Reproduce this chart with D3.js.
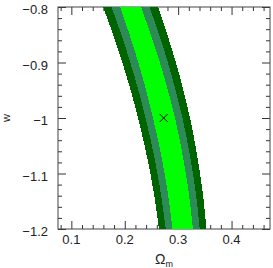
<!DOCTYPE html>
<html>
<head>
<meta charset="utf-8">
<script src="https://cdn.jsdelivr.net/npm/d3@7"></script>
<style>
  body { margin: 0; background: #fff; }
  text { font-family: "Liberation Sans", Arial, sans-serif; fill: #222; }
</style>
</head>
<body>
<svg id="chart" width="273" height="268"></svg>
<script>
// w values where the contour edges were read
const wGrid = [-0.80, -0.85, -0.90, -0.95, -1.00, -1.05, -1.10, -1.15, -1.20];
// outer (dark) region edges in Omega_m
const outerLeft  = [0.1593, 0.1782, 0.1954, 0.2110, 0.2248, 0.2372, 0.2479, 0.2569, 0.2641];
const outerRight = [0.2623, 0.2798, 0.2958, 0.3098, 0.3222, 0.3324, 0.3411, 0.3479, 0.3529];
// middle region edges
const midLeft  = [0.1752, 0.1936, 0.2104, 0.2256, 0.2389, 0.2509, 0.2612, 0.2698, 0.2767];
const midRight = [0.2464, 0.2644, 0.2808, 0.2952, 0.3081, 0.3187, 0.3278, 0.3350, 0.3403];
// inner region edges
const innerLeft  = [0.1911, 0.2091, 0.2254, 0.2400, 0.2529, 0.2646, 0.2746, 0.2829, 0.2894];
const innerRight = [0.2305, 0.2489, 0.2658, 0.2808, 0.2941, 0.3050, 0.3144, 0.3219, 0.3276];
// best fit point
const bestFit = [0.273, -1.0];

// ticks
const xMajor = [0.1, 0.2, 0.3, 0.4];
const xLabels = ["0.1", "0.2", "0.3", "0.4"];
const xMinor = [0.08, 0.12, 0.14, 0.16, 0.18, 0.22, 0.24, 0.26, 0.28, 0.32, 0.34, 0.36, 0.38, 0.42, 0.44, 0.46];
const yMajor = [-1.2, -1.1, -1.0, -0.9, -0.8];
const yLabels = ["\u22121.2", "\u22121.1", "\u22121", "\u22120.9", "\u22120.8"];
const yMinor = [-1.18, -1.16, -1.14, -1.12, -1.08, -1.06, -1.04, -1.02, -0.98, -0.96, -0.94, -0.92, -0.88, -0.86, -0.84, -0.82];

const boxL = 58, boxR = 270, boxT = 7, boxB = 229;

const x = d3.scaleLinear().domain([0.075, 0.472]).range([boxL, boxR]);
const y = d3.scaleLinear().domain([-1.2, -0.8]).range([boxB, boxT]);

const svg = d3.select("#chart");

//ticks, all pointing into the box
function tickAxis(axis, vals, size, tr){
  const g = svg.append("g")
    .attr("transform", tr)
    .call(axis.tickValues(vals).tickSize(-size).tickFormat(""));
  g.select(".domain").remove();
  g.selectAll("line").attr("stroke", "#333");
}
tickAxis(d3.axisBottom(x), xMinor, 4, `translate(0,${boxB})`);
tickAxis(d3.axisBottom(x), xMajor, 8, `translate(0,${boxB})`);
tickAxis(d3.axisTop(x), xMinor, 4, `translate(0,${boxT})`);
tickAxis(d3.axisTop(x), xMajor, 8, `translate(0,${boxT})`);
tickAxis(d3.axisLeft(y), yMinor, 4, `translate(${boxL},0)`);
tickAxis(d3.axisLeft(y), yMajor, 8, `translate(${boxL},0)`);
tickAxis(d3.axisRight(y), yMinor, 4, `translate(${boxR},0)`);
tickAxis(d3.axisRight(y), yMajor, 8, `translate(${boxR},0)`);

//frame
svg.append("rect")
  .attr("x", boxL).attr("y", boxT)
  .attr("width", boxR - boxL).attr("height", boxB - boxT)
  .attr("fill", "none").attr("stroke", "#444");

//tick labels
svg.selectAll(".xl").data(xMajor).enter().append("text")
  .attr("x", d => x(d)).attr("y", 243.5)
  .attr("text-anchor", "middle").attr("font-size", 13)
  .text((d, i) => xLabels[i]);
svg.selectAll(".yl").data(yMajor).enter().append("text")
  .attr("x", 48).attr("y", d => y(d) + 7)
  .attr("text-anchor", "end").attr("font-size", 13)
  .text((d, i) => yLabels[i]);

//axis titles
const xt = svg.append("text")
  .attr("x", 164).attr("y", 264)
  .attr("text-anchor", "middle").attr("font-size", 14);
xt.append("tspan").text("\u03A9");
xt.append("tspan").attr("font-size", 9).attr("dy", 3).text("m");

svg.append("text")
  .attr("transform", `translate(10,${y(-1)}) rotate(-90)`)
  .attr("text-anchor", "middle").attr("font-size", 11)
  .text("w");

//contours, clipped to the box
svg.append("clipPath").attr("id", "box")
  .append("rect")
  .attr("x", boxL).attr("y", boxT - 0.5)
  .attr("width", boxR - boxL).attr("height", boxB - boxT + 0.5);

const bands = [
  {l: outerLeft, r: outerRight, c: "#006400"},
  {l: midLeft, r: midRight, c: "#2e8b57"},
  {l: innerLeft, r: innerRight, c: "#00ff00"}
];

const area = d3.area()
  .curve(d3.curveCatmullRom)
  .y(d => y(d[0]))
  .x0(d => x(d[1]))
  .x1(d => x(d[2]));

const bandG = svg.append("g").attr("clip-path", "url(#box)");
for (const b of bands) {
  bandG.append("path")
    .attr("d", area(wGrid.map((w, i) => [w, b.l[i], b.r[i]])))
    .attr("fill", b.c)
    .attr("shape-rendering", "crispEdges");
}

//best fit cross
const bx = x(bestFit[0]), by = y(bestFit[1]);
svg.append("path")
  .attr("d", `M${bx-4},${by-4}L${bx+4},${by+4}M${bx-4},${by+4}L${bx+4},${by-4}`)
  .attr("stroke", "#000").attr("stroke-width", 1).attr("fill", "none");
</script>
</body>
</html>
